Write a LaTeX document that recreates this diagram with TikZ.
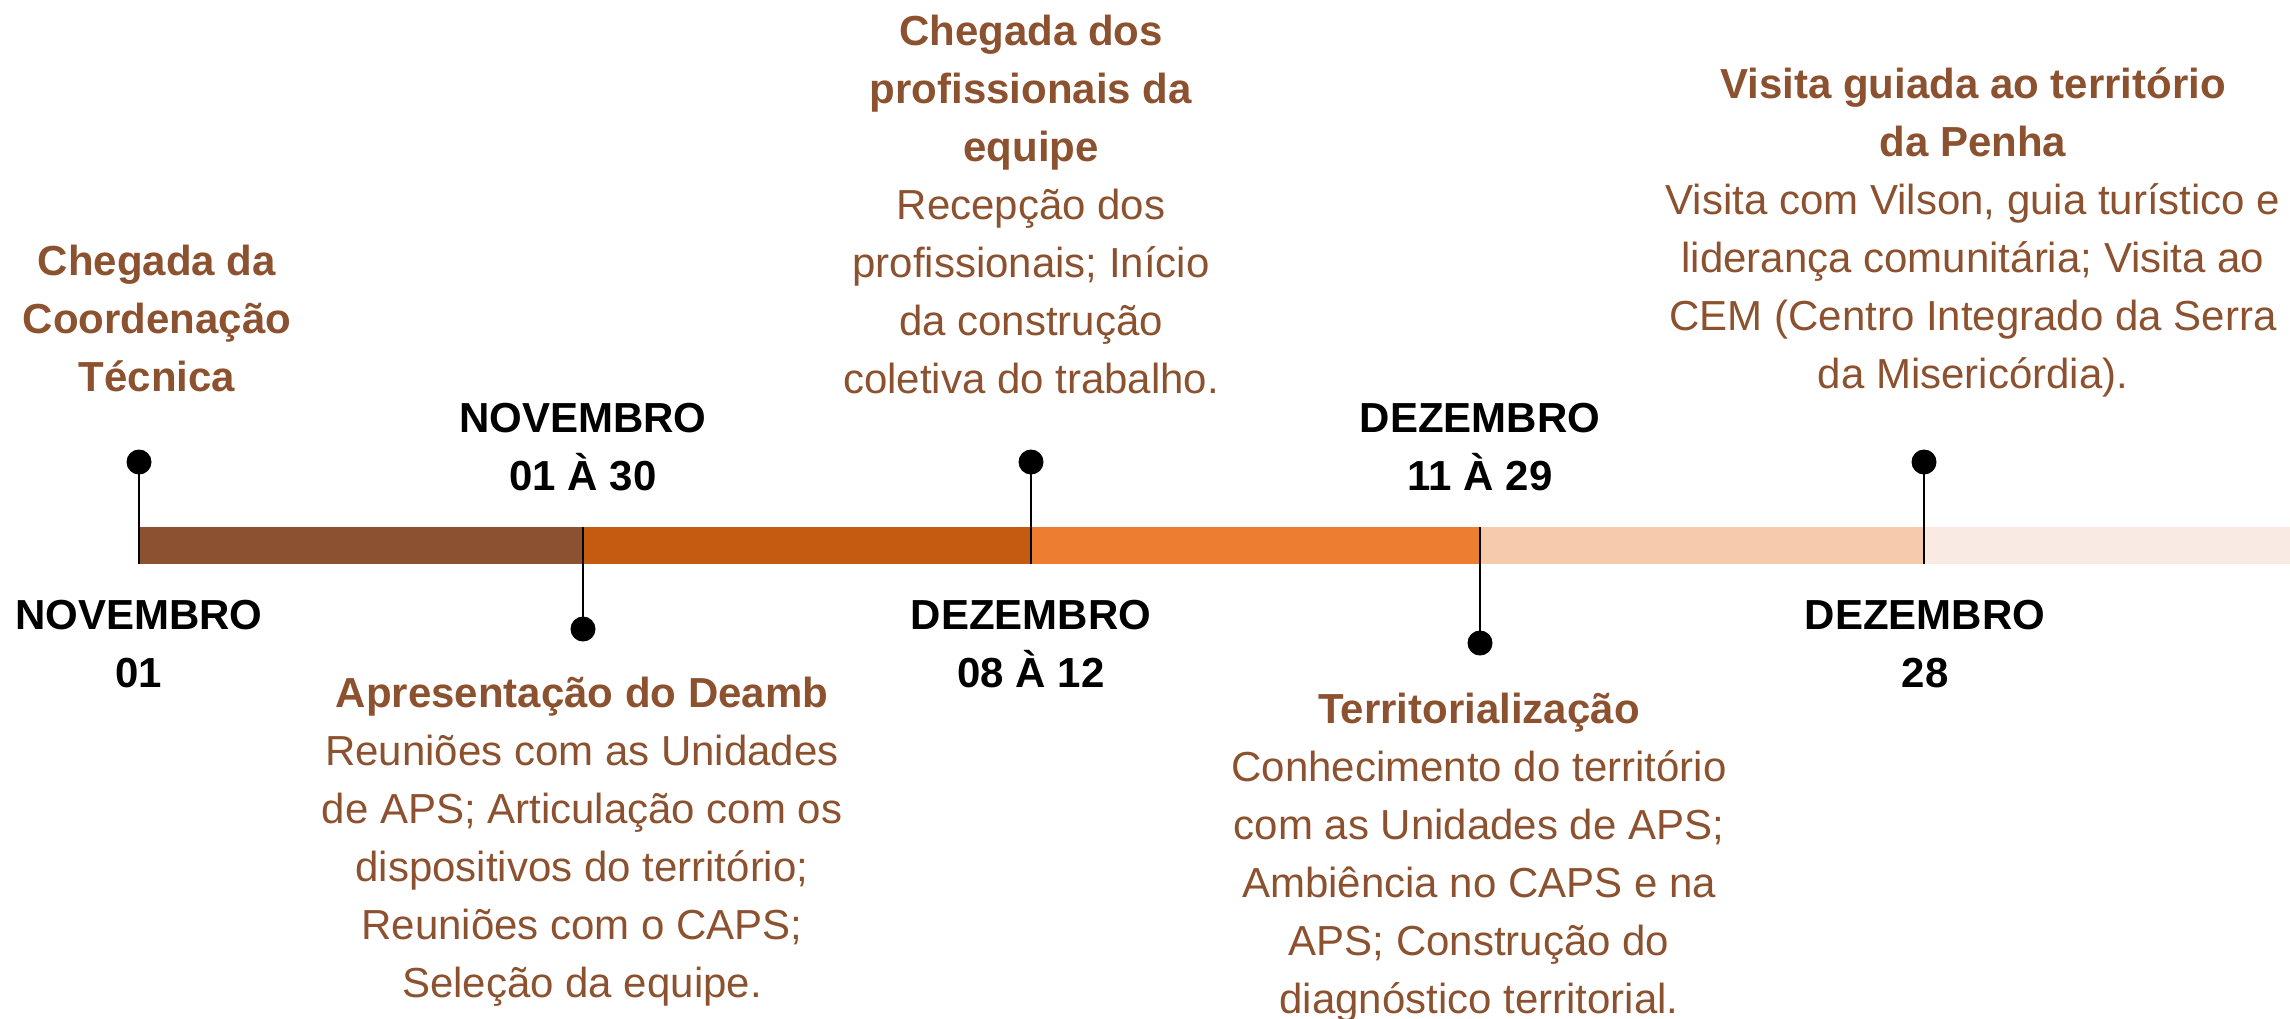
\documentclass[tikz,border=0pt]{standalone}
\usepackage{fontspec}
\setmainfont{Liberation Sans}
\definecolor{brn}{HTML}{8C5230}
\definecolor{segA}{HTML}{8B5130}
\definecolor{segB}{HTML}{C55A11}
\definecolor{segC}{HTML}{ED7D31}
\definecolor{segD}{HTML}{F6CBAC}
\definecolor{segE}{HTML}{FAEAE4}
\newcommand{\mylines}[1]{\begin{tabular}[t]{@{}c@{}}#1\end{tabular}}
\tikzset{
  lbl/.style={inner sep=0pt, anchor=base},
  datelbl/.style={lbl, text=black, font=\fontsize{42}{58}\selectfont\bfseries},
  evtlbl/.style={lbl, text=brn, font=\fontsize{42}{58}\selectfont},
  pin/.style={circle, fill=black, inner sep=0pt, minimum size=25pt},
  stem/.style={line width=2.5pt, black},
}
\begin{document}
\begin{tikzpicture}[x=1pt,y=-1pt]
\useasboundingbox (0,0) rectangle (2290,1018);
% bar
\fill[segA] (139,527) rectangle (583,564);
\fill[segB] (583,527) rectangle (1031,564);
\fill[segC] (1031,527) rectangle (1480,564);
\fill[segD] (1480,527) rectangle (1924,564);
\fill[segE] (1924,527) rectangle (2290,564);
% bar anchor coordinates
\coordinate (b1) at (139,564);
\coordinate (b2) at (583,527);
\coordinate (b3) at (1031,564);
\coordinate (b4) at (1480,527);
\coordinate (b5) at (1924,564);
% pins
\node[pin] (d1) at (139,462) {};
\node[pin] (d2) at (583,629) {};
\node[pin] (d3) at (1031,462) {};
\node[pin] (d4) at (1480,643) {};
\node[pin] (d5) at (1924,462) {};
\draw[stem] (d1.center) -- (b1);
\draw[stem] (b2) -- (d2.center);
\draw[stem] (d3.center) -- (b3);
\draw[stem] (b4) -- (d4.center);
\draw[stem] (d5.center) -- (b5);
% date labels
\node[datelbl] (t1) at (139,629) {\mylines{NOVEMBRO\\01}};
\node[datelbl] (t2) at (583,432) {\mylines{NOVEMBRO\\01 À 30}};
\node[datelbl] (t3) at (1031,629) {\mylines{DEZEMBRO\\08 À 12}};
\node[datelbl] (t4) at (1480,432) {\mylines{DEZEMBRO\\11 À 29}};
\node[datelbl] (t5) at (1925,629) {\mylines{DEZEMBRO\\28}};
% event labels
\node[evtlbl] (e1) at (157,275) {\mylines{\textbf{Chegada da}\\\textbf{Coordenação}\\\textbf{Técnica}}};
\node[evtlbl] (e2) at (582,707) {\mylines{\textbf{Apresentação do Deamb}\\Reuniões com as Unidades\\de APS; Articulação com os\\dispositivos do território;\\Reuniões com o CAPS;\\Seleção da equipe.}};
\node[evtlbl] (e3) at (1031,45) {\mylines{\textbf{Chegada dos}\\\textbf{profissionais da}\\\textbf{equipe}\\Recepção dos\\profissionais; Início\\da construção\\coletiva do trabalho.}};
\node[evtlbl] (e4) at (1479,723) {\mylines{\textbf{Territorialização}\\Conhecimento do território\\com as Unidades de APS;\\Ambiência no CAPS e na\\APS; Construção do\\diagnóstico territorial.}};
\node[evtlbl] (e5) at (1973,98) {\mylines{\textbf{Visita guiada ao território}\\\textbf{da Penha}\\Visita com Vilson, guia turístico e\\liderança comunitária; Visita ao\\CEM (Centro Integrado da Serra\\da Misericórdia).}};
\end{tikzpicture}
\end{document}
